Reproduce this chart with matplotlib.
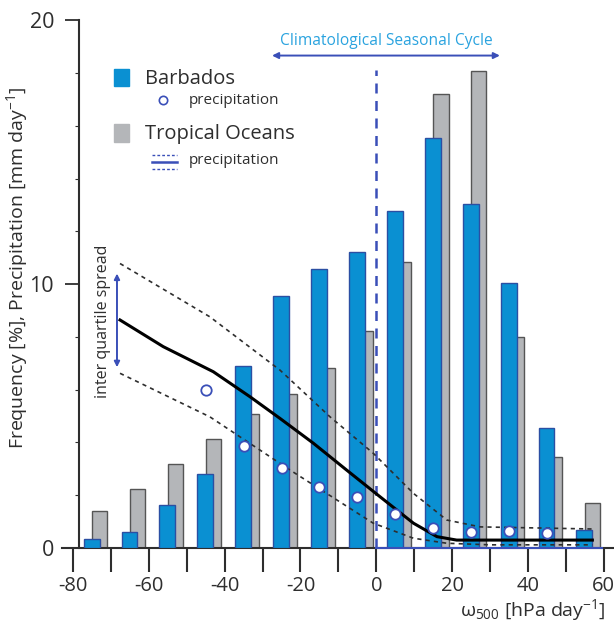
import numpy as np
import matplotlib.pyplot as plt
from matplotlib.patches import Rectangle

plt.rcParams['font.family'] = ['Open Sans', 'DejaVu Sans']
plt.rcParams['mathtext.fontset'] = 'custom'
plt.rcParams['mathtext.rm'] = 'Open Sans'
plt.rcParams['mathtext.it'] = 'Open Sans'

# omega500 bin centres [hPa/day]
bins = [-75, -65, -55, -45, -35, -25, -15, -5, 5, 15, 25, 35, 45, 55]
# frequency [%]
freq_barbados = [0.33, 0.62, 1.64, 2.81, 6.89, 9.55, 10.56, 11.22, 12.76, 15.55, 13.05, 10.04, 4.56, 0.68]
freq_tropics = [1.41, 2.23, 3.17, 4.14, 5.06, 5.83, 6.81, 8.23, 10.82, 17.2, 18.08, 7.98, 3.45, 1.72]

# Barbados mean precipitation [mm/day] (circles)
pr_barb_x = [-45, -35, -25, -15, -5, 5, 15, 25, 35, 45]
pr_barb = [5.98, 3.86, 3.04, 2.31, 1.92, 1.29, 0.75, 0.6, 0.66, 0.58]

# tropical oceans precipitation: mean and inter quartile range
pr_trop_x = [-67.6, -56.2, -43, -33.3, -25.4, -16.6, -7.8, 1.0, 9.8, 16, 21.2, 57]
pr_trop_mean = [8.64, 7.63, 6.68, 5.73, 4.91, 3.97, 2.95, 1.94, 0.94, 0.43, 0.3, 0.3]
iqr_up_x = [-67.6, -43.9, -25.4, -12.2, -0.8, 9.8, 18.6, 27.4, 57]
iqr_upper = [10.78, 8.76, 6.74, 4.97, 3.59, 2.07, 1.06, 0.8, 0.72]
iqr_low_x = [-67.6, -43.9, -22.7, -10.4, -0.8, 9.8, 18.6, 30, 57]
iqr_lower = [6.62, 4.97, 2.95, 1.82, 0.94, 0.37, 0.18, 0.12, 0.12]

blue = '#0a90d2'
blue_edge = '#2b4fa3'
grey = '#b4b6b9'
grey_edge = '#555555'
line_blue = '#3a4fb8'
text_blue = '#2aa3df'
dark = '#2e2e2e'

fig = plt.figure(figsize=(6.14, 6.25), dpi=100)
ax = fig.add_axes([0.101, 0.1232, 0.899, 0.8656])

bins = np.array(bins)
ax.bar(bins + 2.0, freq_tropics, width=4.1, color=grey, edgecolor=grey_edge, linewidth=1.0, zorder=2)
ax.bar(bins - 0.1, freq_barbados, width=4.2, color=blue, edgecolor=blue_edge, linewidth=1.0, zorder=3)

# tropical precipitation lines
ax.plot(pr_trop_x, pr_trop_mean, color='black', lw=2.2, zorder=5)
ax.plot(iqr_up_x, iqr_upper, color=dark, lw=1.2, ls=(0, (2.5, 2.5)), zorder=5)
ax.plot(iqr_low_x, iqr_lower, color=dark, lw=1.2, ls=(0, (2.5, 2.5)), zorder=5)

# Barbados precipitation
ax.plot(pr_barb_x, pr_barb, ls='none', marker='o', ms=7.5, mfc='white', mec=line_blue, mew=1.3, zorder=6)

# vertical dashed line at omega = 0
ax.plot([0, 0], [0, 18.1], color=line_blue, lw=1.8, ls=(0, (4, 3)), zorder=4)
ax.plot([0, 59.5], [0, 0], color=line_blue, lw=1.5, zorder=7, clip_on=False)

# seasonal cycle arrow
ax.annotate('', xy=(-27.5, 18.66), xytext=(32.6, 18.66),
            arrowprops=dict(arrowstyle='<|-|>', color=line_blue, lw=1.4,
                            mutation_scale=9, shrinkA=0, shrinkB=0))
ax.text(2.6, 19.2, 'Climatological Seasonal Cycle', color=text_blue,
        fontsize=11.2, ha='center', va='center')

# inter quartile spread arrow
ax.annotate('', xy=(-68.4, 10.4), xytext=(-68.4, 6.85),
            arrowprops=dict(arrowstyle='<|-|>', color=line_blue, lw=1.4,
                            mutation_scale=8, shrinkA=0, shrinkB=0))
ax.text(-72.0, 8.6, 'inter quartile spread', rotation=90, fontsize=11.5,
        color=dark, ha='center', va='center')

# hand made legend
ax.add_patch(Rectangle((-69.2, 17.5), 4.0, 0.65, color=blue, zorder=8))
ax.text(-61.0, 17.78, 'Barbados', fontsize=14.5, color=dark, va='center')
ax.plot([-56.3], [16.97], marker='o', ms=6, mfc='white', mec=line_blue, mew=1.2)
ax.text(-49.6, 16.97, 'precipitation', fontsize=11, color=dark, va='center')
ax.add_patch(Rectangle((-69.2, 15.4), 4.0, 0.65, color=grey, zorder=8))
ax.text(-61.0, 15.7, 'Tropical Oceans', fontsize=14.5, color=dark, va='center')
ax.plot([-59.2, -52.6], [14.63, 14.63], color=line_blue, lw=1.8)
ax.plot([-59.2, -52.6], [14.89, 14.89], color=line_blue, lw=1.0, ls=(0, (2, 1.5)))
ax.plot([-59.2, -52.6], [14.37, 14.37], color=line_blue, lw=1.0, ls=(0, (2, 1.5)))
ax.text(-49.6, 14.68, 'precipitation', fontsize=11, color=dark, va='center')

ax.set_xlim(-82.9, 62.7)
ax.set_ylim(0, 20.5)

for s in ['top', 'right']:
    ax.spines[s].set_visible(False)
ax.spines['left'].set_position(('data', -78.4))
ax.spines['left'].set_bounds(0, 20)
ax.spines['left'].set_color(dark)
ax.spines['left'].set_linewidth(1.5)
ax.spines['bottom'].set_color(dark)
ax.spines['bottom'].set_linewidth(1.5)

ax.set_yticks([0, 10, 20])
ax.set_yticks(np.arange(0, 21, 2), minor=True)
ax.tick_params(axis='y', which='major', length=10, width=1.3, color=dark,
               labelsize=15.5, labelcolor=dark, pad=8)
ax.tick_params(axis='y', which='minor', length=3, width=0.8, color=dark)

ax.set_xticks(np.arange(-80, 61, 10))
ax.set_xticklabels([str(v) if v % 20 == 0 else '' for v in range(-80, 61, 10)])
ax.tick_params(axis='x', which='major', length=17, width=1.5, color=dark,
               labelsize=14.5, labelcolor=dark, pad=3)

ax.set_ylabel('Frequency [%], Precipitation [mm day$^{-1}$]', fontsize=14,
              color=dark, labelpad=2)
ax.yaxis.set_label_coords(-0.058, 0.518)
ax.text(60.4, -2.35, r'$\omega_{500}$ [hPa day$^{-1}$]', fontsize=14, color=dark,
        ha='right', va='center', clip_on=False)

fig.savefig('out.png', dpi=100)
